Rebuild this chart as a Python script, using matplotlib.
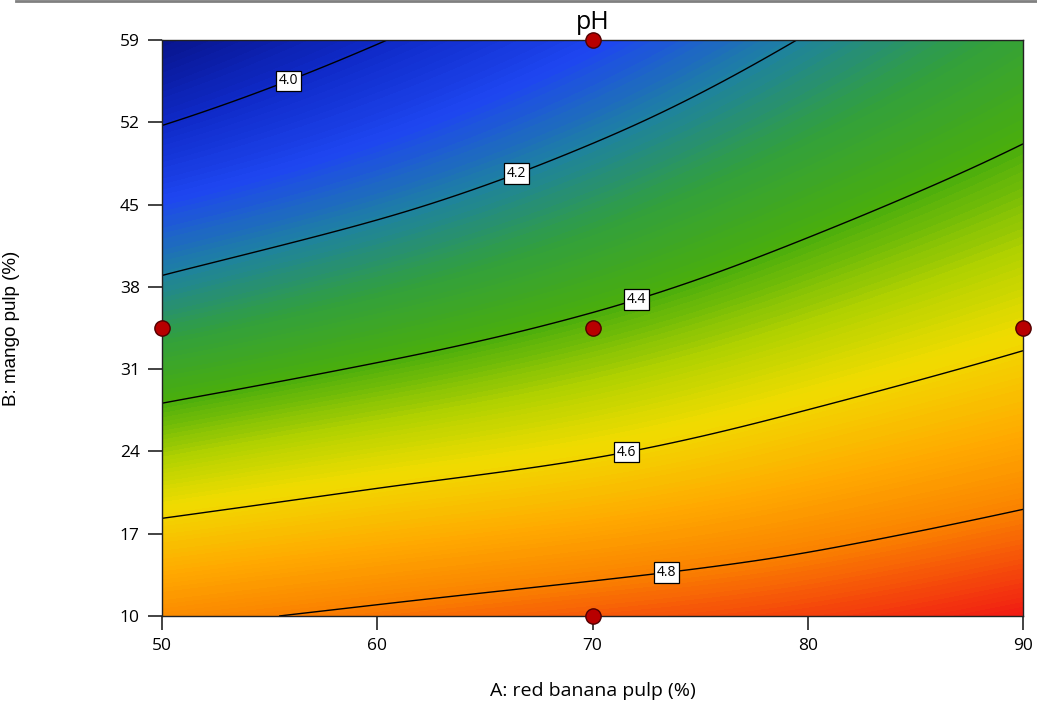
import numpy as np
import matplotlib.pyplot as plt
import matplotlib.tri as mtri
from matplotlib.colors import LinearSegmentedColormap

# %% data
a_levels = [50, 60, 70, 80, 90]                   # A: red banana pulp (%)
b_levels = [10, 17, 24, 31, 38, 45, 52, 59]       # B: mango pulp (%)

# pH at each B level, one list per A level
ph_a50 = [4.775, 4.628, 4.48, 4.345, 4.216, 4.105, 3.996, 3.90]
ph_a60 = [4.82, 4.676, 4.54, 4.41, 4.29, 4.18, 4.08, 3.996]
ph_a70 = [4.86, 4.72, 4.59, 4.476, 4.367, 4.27, 4.176, 4.09]
ph_a80 = [4.90, 4.772, 4.655, 4.549, 4.453, 4.366, 4.284, 4.206]
ph_a90 = [4.96, 4.835, 4.722, 4.621, 4.532, 4.453, 4.382, 4.317]

design_a = [50, 70, 90, 70, 70]
design_b = [34.5, 34.5, 34.5, 59, 10]

contour_levels = [4.0, 4.2, 4.4, 4.6, 4.8]

# %% surface
ph = np.array([ph_a50, ph_a60, ph_a70, ph_a80, ph_a90]).T
A, B = np.meshgrid(a_levels, b_levels)
na = len(a_levels)
cells = []
for j in range(len(b_levels) - 1):
    for i in range(na - 1):
        p00, p10 = j * na + i, j * na + i + 1
        p01, p11 = p00 + na, p10 + na
        cells += [[p00, p10, p11], [p00, p11, p01]]
tri = mtri.Triangulation(A.ravel(), B.ravel(), cells)
interp = mtri.CubicTriInterpolator(tri, ph.ravel(), kind="min_E")
tri_f, ph_f = mtri.UniformTriRefiner(tri).refine_field(ph.ravel(), triinterpolator=interp, subdiv=4)

vmin, vmax = 3.90, 4.97
stops = [
    (3.90, "#08148c"),
    (4.00, "#0f2ac8"),
    (4.10, "#1e46f0"),
    (4.20, "#1e82a0"),
    (4.30, "#32a03c"),
    (4.40, "#4aae0c"),
    (4.50, "#b4d200"),
    (4.58, "#f0dc00"),
    (4.70, "#ffaa00"),
    (4.80, "#fa8200"),
    (4.97, "#f01414"),
]
cmap = LinearSegmentedColormap.from_list(
    "dx", [((v - vmin) / (vmax - vmin), c) for v, c in stops]
)

plt.rcParams["font.family"] = ["Open Sans", "DejaVu Sans"]

fig = plt.figure(figsize=(10.37, 7.04), dpi=100)
ax = fig.add_axes([162 / 1037, 1 - 616 / 704, 861 / 1037, 576 / 704])

ax.tricontourf(tri_f, ph_f, levels=np.linspace(3.85, 5.02, 160), cmap=cmap,
               vmin=vmin, vmax=vmax, antialiased=False)
cs = ax.tricontour(tri_f, ph_f, levels=contour_levels, colors="black", linewidths=1.0)
label_pos = [(55.8, 55.8), (66.4, 48.0), (72.0, 37.1), (71.5, 24.5), (73.4, 14.3)]
labels = ax.clabel(cs, fmt="%.1f", manual=label_pos, inline=True, fontsize=10, inline_spacing=2)
for t in labels:
    t.set_rotation(0)
    t.set_bbox(dict(boxstyle="square,pad=0.2", fc="white", ec="black", lw=0.9))

ax.plot(design_a, design_b, "o", ms=11, mfc="#b80000", mec="#500000", mew=1,
        clip_on=False, zorder=5)

ax.set_xlim(50, 90)
ax.set_ylim(10, 59)
ax.set_xticks(a_levels)
ax.set_yticks(b_levels)
ax.tick_params(direction="out", length=10, width=1.2, labelsize=12.5, pad=6, color="#222222")
for s in ax.spines.values():
    s.set_color("#222222")
    s.set_linewidth(1)

ax.set_title("pH", fontsize=18, pad=8)
ax.set_xlabel("A: red banana pulp (%)", fontsize=14, labelpad=20)
ax.set_ylabel("B: mango pulp (%)", fontsize=13.5, family=["Liberation Sans", "DejaVu Sans"])
ax.yaxis.set_label_coords(-0.165, 0.5)

fig.add_artist(plt.Line2D([0.015, 1], [0.998, 0.998], color="gray", lw=2,
                          transform=fig.transFigure))

fig.savefig("out.png", dpi=100)
